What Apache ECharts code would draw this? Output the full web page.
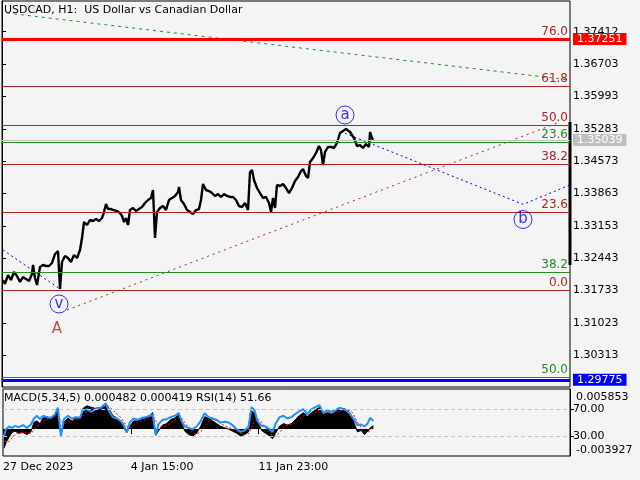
<!DOCTYPE html>
<html><head><meta charset="utf-8">
<script src="https://cdn.jsdelivr.net/npm/echarts@6/dist/echarts.min.js"></script>
<style>html,body{margin:0;padding:0;background:#f4f4f4}#c{width:640px;height:480px}</style>
</head><body><div id="c"></div>
<script>
const FONT = 'DejaVu Sans';
// ---- price (H1 closes, bar index from left edge) ----
const barIdx = [1,3,6,9,12,15,18,21,24,27,30,31,33,35,38,41,44,47,50,53,56,58,60,63,66,69,72,75,78,80,82,85,88,91,94,97,100,102,104,106,109,112,115,118,120,122,124,126,128,131,134,137,140,143,146,149,151,153,155,158,161,164,167,170,173,176,177,179,182,185,188,191,194,197,199,201,204,207,210,213,216,219,222,225,228,231,234,237,240,243,246,248,250,252,255,258,261,264,267,269,271,273,275,278,281,284,287,290,293,296,299,301,304,306,308,311,314,317,319,321,323,326,329,332,335,338,341,344,346,348,350,352,355,358,361,364,367,368,370,371];
const closePrice = [1.31965,1.31877,1.32074,1.31965,1.32140,1.32052,1.31921,1.32030,1.31987,1.31943,
1.32096,1.32294,1.32009,1.31855,1.32250,1.32294,1.32272,1.32272,1.32338,1.32535,
1.32601,1.31767,1.32360,1.32491,1.32447,1.32360,1.32513,1.32447,1.32623,1.32886,
1.33237,1.33171,1.33281,1.33259,1.33303,1.33259,1.33325,1.33456,1.33632,1.33522,
1.33522,1.33500,1.33478,1.33435,1.33369,1.33237,1.33325,1.33171,1.33500,1.33544,
1.33478,1.33522,1.33566,1.33654,1.33720,1.33764,1.33939,1.32886,1.33456,1.33544,
1.33588,1.33500,1.33720,1.33764,1.33808,1.33895,1.34005,1.33720,1.33632,1.33500,
1.33456,1.33413,1.33500,1.33522,1.33720,1.34071,1.33939,1.33917,1.33873,1.33808,
1.33851,1.33786,1.33851,1.33808,1.33786,1.33786,1.33720,1.33588,1.33566,1.33654,
1.33500,1.34334,1.34378,1.34159,1.33983,1.33873,1.33764,1.33786,1.33654,1.33456,
1.33764,1.33544,1.34049,1.34027,1.34071,1.33983,1.33873,1.33983,1.34137,1.34224,
1.34356,1.34400,1.34246,1.34202,1.34553,1.34641,1.34751,1.34904,1.34817,1.34488,
1.34773,1.34883,1.34883,1.34861,1.34970,1.35190,1.35234,1.35277,1.35299,1.35212,
1.35255,1.35080,1.34904,1.34926,1.34861,1.34948,1.34883,1.35212,1.35080,1.35036];
// ---- oscillators ----
const oscIdx = [1,3,6,9,12,16,20,24,28,31,34,37,40,44,48,52,55,58,61,65,69,73,77,80,84,88,93,98,103,106,110,114,118,121,124,127,131,135,139,143,147,150,153,156,160,164,168,172,176,179,182,186,190,194,198,202,206,210,214,218,222,226,230,234,238,242,246,249,252,255,259,263,267,270,273,277,281,285,289,293,297,301,305,309,313,317,321,325,329,333,337,341,345,349,352,355,359,362,365,368,371];
const macdHist = [-0.0028,-0.0020,-0.0012,-0.0005,-0.0003,-0.0006,-0.0005,-0.0008,-0.0004,0.0010,
0.0012,0.0008,0.0016,0.0018,0.0015,0.0020,0.0028,-0.0008,0.0010,0.0016,
0.0012,0.0016,0.0015,0.0030,0.0034,0.0032,0.0030,0.0032,0.0038,0.0030,
0.0020,0.0016,0.0012,0.0002,-0.0005,0.0004,0.0012,0.0012,0.0014,0.0016,
0.0020,0.0024,-0.0009,-0.0002,0.0006,0.0008,0.0014,0.0016,0.0021,0.0010,
-0.0003,-0.0008,-0.0010,-0.0006,0.0004,0.0018,0.0016,0.0012,0.0008,0.0004,
0.0002,0.0000,-0.0003,-0.0006,-0.0010,-0.0008,-0.0004,0.0026,0.0024,0.0012,
-0.0002,-0.0006,-0.0010,-0.0014,-0.0006,0.0004,0.0008,0.0006,0.0008,0.0014,
0.0020,0.0024,0.0018,0.0024,0.0028,0.0032,0.0022,0.0024,0.0022,0.0026,
0.0030,0.0030,0.0028,0.0020,0.0008,-0.0004,-0.0002,-0.0008,-0.0004,0.0002,
0.0005];
const macdSignal = [-0.0018,-0.0020,-0.0018,-0.0013,-0.0008,-0.0005,-0.0005,-0.0006,-0.0006,-0.0002,
0.0004,0.0009,0.0011,0.0014,0.0016,0.0017,0.0021,0.0012,0.0008,0.0010,
0.0012,0.0014,0.0015,0.0019,0.0026,0.0030,0.0031,0.0031,0.0034,0.0033,
0.0028,0.0022,0.0017,0.0011,0.0004,0.0002,0.0006,0.0010,0.0012,0.0014,
0.0017,0.0020,0.0012,0.0005,0.0003,0.0005,0.0009,0.0013,0.0017,0.0016,
0.0010,0.0002,-0.0005,-0.0008,-0.0004,0.0004,0.0012,0.0014,0.0012,0.0008,
0.0005,0.0002,0.0000,-0.0003,-0.0006,-0.0008,-0.0007,0.0002,0.0012,0.0016,
0.0010,0.0002,-0.0005,-0.0010,-0.0010,-0.0005,0.0002,0.0006,0.0007,0.0009,
0.0014,0.0019,0.0021,0.0022,0.0024,0.0028,0.0027,0.0025,0.0023,0.0024,
0.0026,0.0028,0.0029,0.0026,0.0019,0.0010,0.0002,-0.0004,-0.0005,-0.0002,
0.0004];
const rsiVals = [30,40,44,42,45,43,46,42,47,56,
60,55,60,58,57,62,72,30,55,60,
56,58,57,68,70,66,70,72,78,68,
58,56,52,46,35,50,56,54,57,58,
60,62,31,48,54,55,58,60,64,52,
44,42,40,44,52,64,58,56,54,50,
51,50,46,40,36,38,44,73,68,52,
45,44,40,36,48,58,60,56,58,63,
67,70,62,70,73,76,64,68,66,68,
72,70,67,60,54,46,47,44,48,57,
52];
// ---- axes ----
const priceTicks = [1.30313,1.31023,1.31733,1.32443,1.33153,1.33863,1.34573,1.35283,1.35993,1.36703,1.37412];
const timeTickIdx = [0,128,256];
const timeLabels = ['27 Dec 2023','4 Jan 15:00','11 Jan 23:00'];
// ---- fibonacci levels ----
const redFibLevels = ['0.0','23.6','38.2','50.0','61.8','76.0'];
const redFibPrices = [1.31739,1.33450,1.34510,1.35365,1.36221,1.37251];
const greenFibLevels = ['23.6','38.2','50.0'];
const greenFibPrices = [1.34992,1.32134,1.29837];
// ---- price tags ----
const tagPrices = [1.37251,1.35039,1.29775];
const tagColors = ['#ff0000','#c0c0c0','#0000ff'];
// ---- waves / trend lines ----
const waveNames = ['a','b','v'];
const waveIdx = [343,521,57];
const wavePrice = [1.35585,1.33292,1.31438];
const letterIdx = [55]; const letterPrice = [1.30890]; const letterName = ['A'];
const greenTrendIdx = [5,568]; const greenTrendPrice = [1.37822,1.36352];
const redTrendIdx = [65,558]; const redTrendPrice = [1.31306,1.35431];
const blueWave1Idx = [1,58]; const blueWave1Price = [1.32623,1.31767];
const blueWave2Idx = [343,521,568]; const blueWave2Price = [1.35183,1.33625,1.34049];
const rangeBarIdx = [568,568]; const rangeBarPrice = [1.35431,1.32294];

const zip = (a,b) => a.map((v,i)=>[v,b[i]]);
const txt = {fontFamily:FONT, fontSize:11, color:'#000'};

const mlData = [];
redFibPrices.forEach((p,i)=>mlData.push({yAxis:p, lineStyle:{color:'#b22222',width:1,type:'solid'},
  label:{show:true,position:'insideEndTop',formatter:redFibLevels[i],color:'#b22222',fontFamily:FONT,fontSize:12,distance:[2,1]}}));
greenFibPrices.forEach((p,i)=>mlData.push({yAxis:p, lineStyle:{color:'#228b22',width:1,type:'solid'},
  label:{show:true,position:'insideEndTop',formatter:greenFibLevels[i],color:'#228b22',fontFamily:FONT,fontSize:12,distance:[2,1]}}));
tagPrices.forEach((p,i)=>mlData.push({yAxis:p, lineStyle:{color:tagColors[i],width:i===1?1:3,type:'solid'},
  label:{show:true,position:'end',formatter:p.toFixed(5),color:'#fff',backgroundColor:tagColors[i],padding:[1,4,0,4],fontFamily:FONT,fontSize:11,distance:3}}));

const option = {
  backgroundColor:'#f4f4f4',
  animation:false,
  title:[
    {text:'USDCAD, H1:  US Dollar vs Canadian Dollar', left:4, top:5, padding:0, textStyle:{...txt, fontWeight:'normal'}},
    {text:'MACD(5,34,5) 0.000482 0.000419 RSI(14) 51.66', left:4, top:393, padding:0, textStyle:{...txt, fontWeight:'normal'}}
  ],
  grid:[
    {left:2, top:1, width:568, height:386, show:true, borderColor:'#000', borderWidth:1, backgroundColor:'transparent'},
    {left:2, top:389, width:568, height:67, show:true, borderColor:'#000', borderWidth:1, backgroundColor:'transparent'}
  ],
  xAxis:[
    {gridIndex:0, type:'value', min:0, max:568, show:false},
    {gridIndex:1, type:'value', min:0, max:568, axisLine:{show:false}, splitLine:{show:false},
     axisTick:{show:true, customValues:timeTickIdx, length:5, lineStyle:{color:'#000'}},
     axisLabel:{customValues:timeTickIdx, formatter:v=>timeLabels[timeTickIdx.indexOf(v)], align:'left', margin:6, ...txt}}
  ],
  yAxis:[
    {gridIndex:0, type:'value', position:'right', min:1.29617, max:1.38086, scale:true, splitLine:{show:false},
     axisLine:{show:true, lineStyle:{color:'#000'}},
     axisTick:{show:true, customValues:priceTicks, length:4, lineStyle:{color:'#000'}},
     axisLabel:{customValues:priceTicks, formatter:v=>v.toFixed(5), margin:3, ...txt}},
    {gridIndex:1, type:'value', position:'right', min:-0.003927, max:0.005853, splitLine:{show:false},
     axisLine:{show:false}, axisTick:{show:false},
     axisLabel:{customValues:[-0.003927,0.005853], formatter:v=>v.toFixed(6), margin:6,
       verticalAlignMinLabel:'bottom', verticalAlignMaxLabel:'top', ...txt, padding:[3,0,0,0]}},
    {gridIndex:1, type:'value', position:'right', min:0, max:100, splitLine:{show:false},
     axisLine:{show:true, lineStyle:{color:'#000'}},
     axisTick:{show:true, customValues:[30,70], length:4, lineStyle:{color:'#000'}},
     axisLabel:{customValues:[30,70], formatter:v=>v.toFixed(2), margin:3, ...txt}}
  ],
  series:[
    {type:'line', name:'levels', xAxisIndex:0, yAxisIndex:0, data:zip(barIdx,closePrice), z:1, silent:true,
     symbol:'none', lineStyle:{opacity:0},
     markLine:{silent:true, precision:6, symbol:['none','none'], animation:false, data:mlData}},
    {type:'line', xAxisIndex:0, yAxisIndex:0, data:zip(greenTrendIdx,greenTrendPrice), symbol:'none', z:2,
     lineStyle:{color:'#228b22', width:1, type:[3,4]}},
    {type:'line', xAxisIndex:0, yAxisIndex:0, data:zip(redTrendIdx,redTrendPrice), symbol:'none', z:2,
     lineStyle:{color:'#b22222', width:1, type:[2,4]}},
    {type:'line', xAxisIndex:0, yAxisIndex:0, data:zip(blueWave1Idx,blueWave1Price), symbol:'none', z:2,
     lineStyle:{color:'#0000ff', width:1, type:[2,3]}},
    {type:'line', xAxisIndex:0, yAxisIndex:0, data:zip(blueWave2Idx,blueWave2Price), symbol:'none', z:2,
     lineStyle:{color:'#0000ff', width:1, type:[2,3]}},
    {type:'line', xAxisIndex:0, yAxisIndex:0, data:zip(barIdx,closePrice), symbol:'none', z:3,
     lineStyle:{color:'#000', width:2.4}},
    {type:'line', xAxisIndex:0, yAxisIndex:0, data:zip(rangeBarIdx,rangeBarPrice), symbol:'none', z:4, clip:false,
     lineStyle:{color:'#000', width:3}},
    {type:'scatter', xAxisIndex:0, yAxisIndex:0, data:zip(waveIdx,wavePrice), symbol:'circle', symbolSize:18, z:5,
     itemStyle:{color:'rgba(0,0,0,0)', borderColor:'#0000ff', borderWidth:1},
     label:{show:true, position:'inside', formatter:p=>waveNames[p.dataIndex], color:'#0000ff', fontFamily:FONT, fontSize:15}},
    {type:'scatter', xAxisIndex:0, yAxisIndex:0, data:zip(letterIdx,letterPrice), symbolSize:1, z:5,
     itemStyle:{color:'rgba(0,0,0,0)'},
     label:{show:true, position:'inside', formatter:p=>letterName[p.dataIndex], color:'#b22222', fontFamily:FONT, fontSize:15}},
    {type:'line', xAxisIndex:1, yAxisIndex:2, data:zip(oscIdx,rsiVals), z:1, silent:true,
     symbol:'none', lineStyle:{opacity:0},
     markLine:{silent:true, precision:6, symbol:['none','none'], animation:false, label:{show:false},
       lineStyle:{color:'#c4c4c4', width:1, type:[4,3]}, data:[{yAxis:30},{yAxis:70}]}},
    {type:'line', xAxisIndex:1, yAxisIndex:1, data:zip(oscIdx,macdHist), symbol:'none', z:2,
     lineStyle:{color:'#000', width:1}, areaStyle:{color:'#000', opacity:1}},
    {type:'line', xAxisIndex:1, yAxisIndex:1, data:zip(oscIdx,macdSignal), symbol:'none', z:3,
     lineStyle:{color:'#ff0000', width:1, type:[2,2]}},
    {type:'line', xAxisIndex:1, yAxisIndex:2, data:zip(oscIdx,rsiVals), symbol:'none', z:4,
     lineStyle:{color:'#1e90ff', width:2}}
  ]
};
const chart = echarts.init(document.getElementById('c'), null, {renderer:'canvas'});
chart.setOption(option);
</script></body></html>
